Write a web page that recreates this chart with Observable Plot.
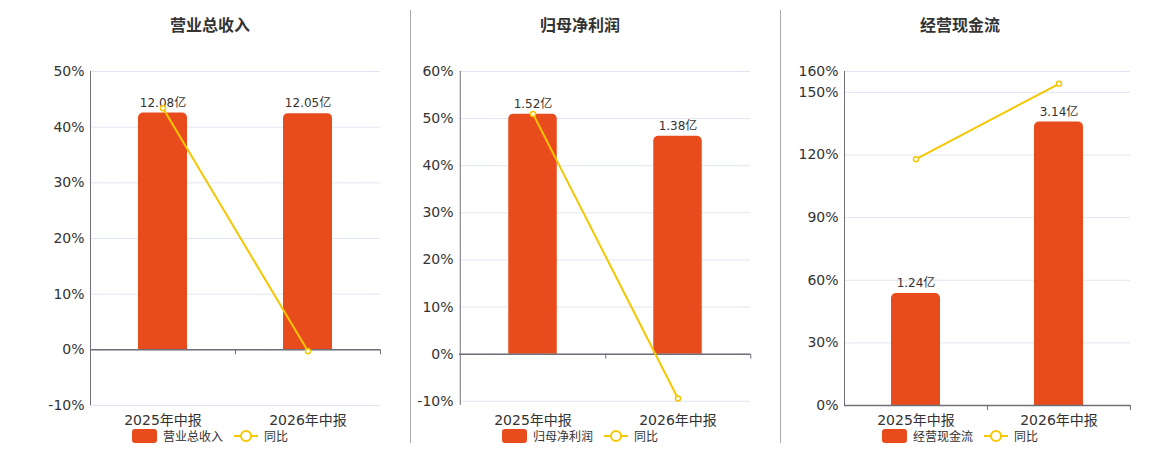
<!DOCTYPE html>
<html><head><meta charset="utf-8">
<script src="https://cdn.jsdelivr.net/npm/d3@7"></script>
<script src="https://cdn.jsdelivr.net/npm/@observablehq/plot@0.6"></script>
<style>
html,body{margin:0;padding:0;background:#fff;}
body{width:1160px;height:450px;position:relative;overflow:hidden;font-family:"DejaVu Sans","Noto Sans CJK SC",sans-serif;}
.panel{position:absolute;top:0;width:370px;height:450px;}
.title{position:absolute;top:12px;left:0;width:370px;text-align:center;font-size:16px;font-weight:bold;color:#333;font-family:"Noto Sans CJK SC",sans-serif;}
.chart{position:absolute;top:40px;left:0;}
.legend{position:absolute;top:429px;left:0;width:370px;display:flex;justify-content:center;align-items:center;font-size:12px;color:#333;font-family:"Noto Sans CJK SC",sans-serif;}
.legend .sw{width:25px;height:14px;border-radius:3px;background:#e84c1d;margin-right:6px;}
.legend .txt{line-height:14px;}
.legend .gap{width:11px;}
.divider{position:absolute;top:10px;width:1px;height:433px;background:#aaa;}
</style>
</head><body>
<div class="divider" style="left:410px"></div>
<div class="divider" style="left:780px"></div>
<script>
// ---- data ----
const categories = ["2025年中报", "2026年中报"];
const titles = ["营业总收入", "归母净利润", "经营现金流"];
const barValues1 = [12.08, 12.05];   // 亿
const barValues2 = [1.52, 1.38];
const barValues3 = [1.24, 3.14];
const yoy1 = [43.4, -0.25];          // 同比 %
const yoy2 = [51.0, -9.4];
const yoy3 = [118.0, 154.1];
const yTicks1 = [-10, 0, 10, 20, 30, 40, 50];
const yTicks2 = [-10, 0, 10, 20, 30, 40, 50, 60];
const yTicks3 = [0, 30, 60, 90, 120, 150, 160];
const yDomain1 = [-10, 50];
const yDomain2 = [-10.9, 60];
const yDomain3 = [0, 160];
// bar value (亿) on the hidden bar axis that lines up with the top of the % axis
const hiddenBarTop = [14.2, 1.79, 3.70];

const BAR = "#e84c1d", LINE = "#f5c700", AXIS = "#6e7079", GRID = "#e0e6f1";

const panels = [
  {center: 210, marginLeft: 65, bars: barValues1, yoy: yoy1, ticks: yTicks1, domain: yDomain1, top: hiddenBarTop[0], title: titles[0]},
  {center: 580, marginLeft: 64, bars: barValues2, yoy: yoy2, ticks: yTicks2, domain: yDomain2, top: hiddenBarTop[1], title: titles[1]},
  {center: 960, marginLeft: 69, bars: barValues3, yoy: yoy3, ticks: yTicks3, domain: yDomain3, top: hiddenBarTop[2], title: titles[2]}
];

panels.forEach(p => {
  const W = 370, marginRight = 15;
  const bw = (W - p.marginLeft - marginRight) / categories.length;
  const inset = (bw - 49) / 2;
  const pctMax = p.domain[1];
  const rows = categories.map((c, i) => ({
    cat: c,
    bar: p.bars[i],
    barY: p.bars[i] / p.top * pctMax,
    yoy: p.yoy[i]
  }));
  const chart = Plot.plot({
    width: W, height: 390,
    marginLeft: p.marginLeft, marginRight, marginTop: 31, marginBottom: 25,
    style: {fontFamily: '"DejaVu Sans","Noto Sans CJK SC",sans-serif', color: "#333", background: "transparent"},
    x: {type: "band", domain: categories, padding: 0, label: null},
    y: {domain: p.domain, label: null},
    marks: [
      Plot.ruleY(p.ticks, {stroke: GRID, strokeWidth: 1}),
      Plot.barY(rows, {x: "cat", y1: 0, y2: "barY", fill: BAR, ry1: 5, insetLeft: inset, insetRight: inset}),
      Plot.text(rows, {x: "cat", y: "barY", text: d => d.bar.toFixed(2) + "亿", dy: -10, fontSize: 12, fill: "#333"}),
      Plot.ruleY([0], {stroke: AXIS, strokeWidth: 1.5}),
      Plot.ruleX(categories.slice(0, 1), {x: d => d, dx: -bw / 2, stroke: AXIS, strokeWidth: 1}),
      Plot.ruleX(categories, {x: d => d, y1: 0, y2: 0, insetBottom: -5, dx: bw / 2, stroke: AXIS, strokeWidth: 1}),
      Plot.line(rows, {x: "cat", y: "yoy", stroke: LINE, strokeWidth: 2}),
      Plot.dot(rows, {x: "cat", y: "yoy", r: 2.5, fill: "#fff", stroke: LINE, strokeWidth: 1.5}),
      Plot.axisY({ticks: p.ticks, tickSize: 0, tickPadding: 6, fontSize: 14, tickFormat: d => d + "%", fill: "#333"}),
      Plot.axisX({tickSize: 0, tickPadding: 10, fontSize: 14, fill: "#333"})
    ]
  });
  const div = document.createElement("div");
  div.className = "panel";
  div.style.left = (p.center - 185) + "px";
  div.innerHTML = `<div class="title">${p.title}</div><div class="chart"></div>
    <div class="legend"><div class="sw"></div><span class="txt">${p.title}</span><div class="gap"></div>
    <svg width="24" height="14" style="margin-right:6px"><line x1="0" y1="7" x2="24" y2="7" stroke="${LINE}" stroke-width="2"/><circle cx="12" cy="7" r="5" fill="#fff" stroke="${LINE}" stroke-width="2"/></svg><span class="txt">同比</span></div>`;
  div.querySelector(".chart").appendChild(chart);
  document.body.appendChild(div);
});
</script>
</body></html>
